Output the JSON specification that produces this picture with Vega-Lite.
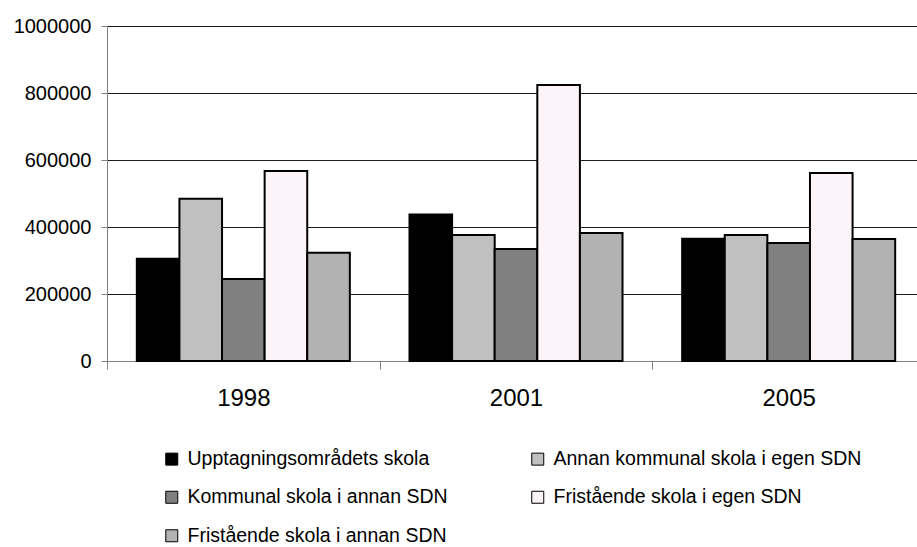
{
  "$schema": "https://vega.github.io/schema/vega-lite/v6.json",
  "width": 810,
  "height": 335,
  "autosize": {"type": "none"},
  "padding": {"left": 107, "top": 26, "right": 0, "bottom": 186},
  "background": "white",
  "config": {"view": {"stroke": null}, "font": "Liberation Sans"},
  "data": {
    "values": [
      {"year": "1998", "cat": "Upptagningsområdets skola", "value": 305000},
      {"year": "1998", "cat": "Annan kommunal skola i egen SDN", "value": 484000},
      {"year": "1998", "cat": "Kommunal skola i annan SDN", "value": 245000},
      {"year": "1998", "cat": "Fristående skola i egen SDN", "value": 567000},
      {"year": "1998", "cat": "Fristående skola i annan SDN", "value": 323000},
      {"year": "2001", "cat": "Upptagningsområdets skola", "value": 437000},
      {"year": "2001", "cat": "Annan kommunal skola i egen SDN", "value": 376000},
      {"year": "2001", "cat": "Kommunal skola i annan SDN", "value": 334000},
      {"year": "2001", "cat": "Fristående skola i egen SDN", "value": 824000},
      {"year": "2001", "cat": "Fristående skola i annan SDN", "value": 382000},
      {"year": "2005", "cat": "Upptagningsområdets skola", "value": 365000},
      {"year": "2005", "cat": "Annan kommunal skola i egen SDN", "value": 376000},
      {"year": "2005", "cat": "Kommunal skola i annan SDN", "value": 352000},
      {"year": "2005", "cat": "Fristående skola i egen SDN", "value": 561000},
      {"year": "2005", "cat": "Fristående skola i annan SDN", "value": 364000}
    ]
  },
  "mark": {"type": "bar", "stroke": "black", "strokeWidth": 2},
  "encoding": {
    "x": {
      "field": "year",
      "type": "nominal",
      "scale": {"range": [0, 818], "paddingInner": 0, "paddingOuter": 0},
      "axis": {
        "title": null,
        "labelAngle": 0,
        "tickBand": "extent",
        "labelFontSize": 24,
        "labelColor": "black",
        "domainColor": "#808080",
        "tickColor": "#808080",
        "tickSize": 8,
        "labelPadding": 17,
        "grid": false
      }
    },
    "xOffset": {
      "field": "cat",
      "type": "nominal",
      "scale": {
        "domain": ["Upptagningsområdets skola", "Annan kommunal skola i egen SDN", "Kommunal skola i annan SDN", "Fristående skola i egen SDN", "Fristående skola i annan SDN"],
        "paddingInner": 0,
        "paddingOuter": 0.7
      }
    },
    "y": {
      "field": "value",
      "type": "quantitative",
      "scale": {"domain": [0, 1000000], "nice": false},
      "axis": {
        "title": null,
        "values": [0, 200000, 400000, 600000, 800000, 1000000],
        "format": "d",
        "grid": true,
        "gridColor": "#1a1a1a",
        "gridWidth": 1,
        "labelFontSize": 20,
        "labelColor": "black",
        "domainColor": "#808080",
        "tickColor": "#808080",
        "tickSize": 6,
        "labelPadding": 10
      }
    },
    "fill": {
      "field": "cat",
      "type": "nominal",
      "scale": {
        "domain": ["Upptagningsområdets skola", "Annan kommunal skola i egen SDN", "Kommunal skola i annan SDN", "Fristående skola i egen SDN", "Fristående skola i annan SDN"],
        "range": ["#000000", "#c0c0c0", "#808080", "#fcf4f8", "#b2b2b2"]
      },
      "legend": {
        "title": null,
        "orient": "none",
        "legendX": 55,
        "legendY": 423,
        "columns": 2,
        "direction": "horizontal",
        "padding": 0,
        "symbolType": "square",
        "symbolSize": 144,
        "symbolStrokeColor": "black",
        "symbolStrokeWidth": 1,
        "labelFontSize": 19.5,
        "labelColor": "black",
        "labelLimit": 400,
        "labelOffset": 6,
        "rowPadding": 17.5,
        "columnPadding": 80
      }
    }
  }
}
